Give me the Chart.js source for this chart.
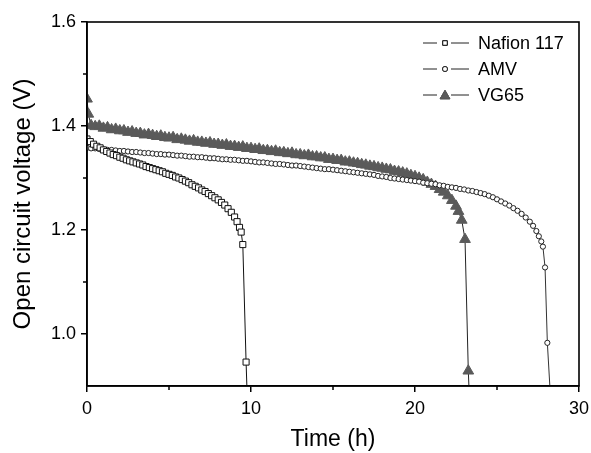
<!DOCTYPE html>
<html>
<head>
<meta charset="utf-8">
<script src="https://cdn.jsdelivr.net/npm/chart.js@4/dist/chart.umd.min.js"></script>
<style>
  html, body { margin: 0; padding: 0; background: #fff; }
  #ocv { display: block; }
</style>
</head>
<body>
<canvas id="ocv" width="591" height="453"></canvas>
<script>
// OCV self-discharge curves

const xTicks = [0, 10, 20, 30];
const xMinor = [5, 15, 25];
const yTicks = [1.0, 1.2, 1.4, 1.6];
const yMinor = [1.1, 1.3, 1.5];

const seriesNames = ['Nafion 117', 'AMV', 'VG65'];

const nafionTime = [0, 0.2, 0.4, 0.6, 0.8, 1.0, 1.2, 1.4, 1.6, 1.8, 2.0, 2.2, 2.4, 2.6, 2.8, 3.0,
    3.2, 3.4, 3.6, 3.8, 4.0, 4.2, 4.4, 4.6, 4.8, 5.0, 5.2, 5.4, 5.6, 5.8, 6.0, 6.2, 6.4, 6.6,
    6.8, 7.0, 7.2, 7.4, 7.6, 7.8, 8.0, 8.2, 8.4, 8.6, 8.8, 9.0, 9.15, 9.3, 9.4, 9.5, 9.7, 9.8];
const nafionOCV = [1.375, 1.370, 1.365, 1.361, 1.358, 1.354, 1.351, 1.348, 1.345, 1.343, 1.340,
    1.338, 1.335, 1.333, 1.331, 1.329, 1.327, 1.325, 1.322, 1.320, 1.318, 1.316, 1.314, 1.312,
    1.309, 1.307, 1.305, 1.302, 1.300, 1.297, 1.294, 1.291, 1.287, 1.284, 1.281, 1.277, 1.274,
    1.270, 1.266, 1.262, 1.258, 1.253, 1.248, 1.241, 1.234, 1.225, 1.216, 1.205, 1.196, 1.172,
    0.946, 0.850];

const amvTime = [0, 0.25, 0.5, 0.75, 1, 1.25, 1.5, 1.75, 2, 2.25, 2.5, 2.75, 3, 3.25, 3.5, 3.75,
    4, 4.25, 4.5, 4.75, 5, 5.25, 5.5, 5.75, 6, 6.25, 6.5, 6.75, 7, 7.25, 7.5, 7.75,
    8, 8.25, 8.5, 8.75, 9, 9.25, 9.5, 9.75, 10, 10.25, 10.5, 10.75, 11, 11.25, 11.5, 11.75,
    12, 12.25, 12.5, 12.75, 13, 13.25, 13.5, 13.75, 14, 14.25, 14.5, 14.75, 15, 15.25, 15.5, 15.75,
    16, 16.25, 16.5, 16.75, 17, 17.25, 17.5, 17.75, 18, 18.25, 18.5, 18.75, 19, 19.25, 19.5, 19.75,
    20, 20.25, 20.5, 20.75, 21, 21.25, 21.5, 21.75, 22, 22.25, 22.5, 22.75, 23, 23.25, 23.5, 23.75,
    24, 24.25, 24.5, 24.75, 25, 25.25, 25.5, 25.75, 26, 26.25, 26.5, 26.75, 27,
    27.2, 27.4, 27.55, 27.7, 27.8, 27.93, 28.07, 28.35];
const amvOCV = [1.358, 1.357, 1.357, 1.356, 1.355, 1.354, 1.354, 1.353,
    1.352, 1.352, 1.351, 1.350, 1.350, 1.349, 1.348, 1.348,
    1.347, 1.346, 1.346, 1.345, 1.345, 1.344, 1.343, 1.343,
    1.342, 1.341, 1.341, 1.340, 1.340, 1.339, 1.338, 1.338,
    1.337, 1.336, 1.336, 1.335, 1.335, 1.334, 1.333, 1.333,
    1.332, 1.331, 1.330, 1.330, 1.329, 1.328, 1.327, 1.327,
    1.326, 1.325, 1.324, 1.324, 1.323, 1.322, 1.321, 1.320,
    1.319, 1.318, 1.317, 1.317, 1.316, 1.315, 1.314, 1.313,
    1.312, 1.311, 1.310, 1.309, 1.308, 1.307, 1.306, 1.304,
    1.303, 1.302, 1.300, 1.299, 1.298, 1.297, 1.296, 1.295,
    1.294, 1.293, 1.291, 1.290, 1.289, 1.288, 1.286, 1.285,
    1.283, 1.282, 1.281, 1.279, 1.278, 1.276, 1.275, 1.273,
    1.271, 1.269, 1.266, 1.263, 1.259, 1.255, 1.251, 1.247,
    1.242, 1.237, 1.231, 1.224, 1.216,
    1.208, 1.198, 1.188, 1.178, 1.168, 1.128, 0.983, 0.830];

const vg65Time = [0, 0.08, 0.25, 0.5, 0.75, 1, 1.25, 1.5, 1.75, 2, 2.25, 2.5, 2.75, 3, 3.25, 3.5, 3.75,
    4, 4.25, 4.5, 4.75, 5, 5.25, 5.5, 5.75, 6, 6.25, 6.5, 6.75, 7, 7.25, 7.5, 7.75,
    8, 8.25, 8.5, 8.75, 9, 9.25, 9.5, 9.75, 10, 10.25, 10.5, 10.75, 11, 11.25, 11.5, 11.75,
    12, 12.25, 12.5, 12.75, 13, 13.25, 13.5, 13.75, 14, 14.25, 14.5, 14.75, 15, 15.25, 15.5, 15.75,
    16, 16.25, 16.5, 16.75, 17, 17.25, 17.5, 17.75, 18, 18.25, 18.5, 18.75, 19, 19.25, 19.5, 19.75,
    20, 20.25, 20.5, 20.75, 21, 21.25, 21.5, 21.75, 22, 22.25, 22.5,
    22.65, 22.85, 23.05, 23.25, 23.35];
const vg65OCV = [1.452, 1.423, 1.401, 1.399, 1.400, 1.396, 1.397, 1.393, 1.394,
    1.391, 1.391, 1.388, 1.389, 1.386, 1.386, 1.383, 1.384,
    1.382, 1.380, 1.381, 1.378, 1.377, 1.378, 1.374, 1.375,
    1.373, 1.371, 1.372, 1.369, 1.369, 1.367, 1.368, 1.365,
    1.365, 1.363, 1.364, 1.361, 1.361, 1.359, 1.360, 1.357,
    1.357, 1.355, 1.356, 1.353, 1.353, 1.351, 1.352, 1.349,
    1.349, 1.347, 1.348, 1.345, 1.345, 1.343, 1.344, 1.341,
    1.341, 1.339, 1.339, 1.336, 1.336, 1.334, 1.334, 1.331,
    1.331, 1.329, 1.328, 1.326, 1.325, 1.323, 1.322, 1.320,
    1.319, 1.317, 1.316, 1.313, 1.312, 1.310, 1.308, 1.305,
    1.303, 1.300, 1.297, 1.292, 1.288, 1.284, 1.278, 1.273,
    1.266, 1.257, 1.246,
    1.236, 1.219, 1.182, 0.929, 0.850];

const FONT = 'Arial, "Liberation Sans", sans-serif';

function pairs(ts, vs) {
    return ts.map((t, i) => ({ x: t, y: vs[i] }));
}

// style per series (square / circle / filled triangle)
const looks = [
    { pointStyle: 'rect', radius: 4.3, fill: '#ffffff', stroke: '#111', line: '#111' },
    { pointStyle: 'circle', radius: 2.6, fill: '#ffffff', stroke: '#222', line: '#333' },
    { pointStyle: 'triangle', radius: 6.2, fill: '#5a5a5a', stroke: '#5a5a5a', line: '#222' }
];
const legendRadius = [3.2, 2.5, 5.6];

const allData = [pairs(nafionTime, nafionOCV), pairs(amvTime, amvOCV), pairs(vg65Time, vg65OCV)];

const datasets = seriesNames.map((name, i) => ({
    label: name,
    data: allData[i],
    borderColor: looks[i].line,
    borderWidth: 1,
    pointStyle: looks[i].pointStyle,
    pointRadius: looks[i].radius,
    pointBackgroundColor: looks[i].fill,
    pointBorderColor: looks[i].stroke,
    pointBorderWidth: 1,
    tension: 0,
    fill: false
}));

// frame, minor ticks and the line-marker-line legend
const framePlugin = {
    id: 'frame',
    afterDraw(chart) {
        const { ctx, chartArea: a, scales } = chart;
        ctx.save();
        ctx.strokeStyle = '#000';
        ctx.lineWidth = 1.6;
        ctx.strokeRect(a.left, a.top, a.right - a.left, a.bottom - a.top);

        ctx.lineWidth = 1.5;
        ctx.beginPath();
        xMinor.forEach(v => {
            const px = scales.x.getPixelForValue(v);
            ctx.moveTo(px, a.bottom);
            ctx.lineTo(px, a.bottom + 4);
        });
        yMinor.forEach(v => {
            const py = scales.y.getPixelForValue(v);
            ctx.moveTo(a.left, py);
            ctx.lineTo(a.left - 4, py);
        });
        ctx.stroke();

        // legend
        ctx.font = '18px ' + FONT;
        ctx.textBaseline = 'middle';
        ctx.textAlign = 'left';
        chart.data.datasets.forEach((ds, i) => {
            const y = a.top + 21 + i * 26;
            const mx = a.right - 134;
            ctx.strokeStyle = '#222';
            ctx.lineWidth = 1;
            ctx.beginPath();
            ctx.moveTo(mx - 22, y); ctx.lineTo(mx - 8, y);
            ctx.moveTo(mx + 6, y); ctx.lineTo(mx + 24, y);
            ctx.stroke();
            Chart.helpers.drawPoint(ctx, {
                pointStyle: ds.pointStyle,
                radius: legendRadius[i],
                borderWidth: 1,
                rotation: 0
            }, mx, y + (i === 2 ? 1 : 0));
            ctx.fillStyle = ds.pointBackgroundColor;
            ctx.strokeStyle = ds.pointBorderColor;
            ctx.fill();
            ctx.stroke();
            ctx.fillStyle = '#000';
            ctx.fillText(ds.label, mx + 33, y + 1);
        });
        ctx.restore();
    }
};

new Chart(document.getElementById('ocv'), {
    type: 'line',
    data: { datasets },
    plugins: [framePlugin],
    options: {
        responsive: false,
        animation: false,
        devicePixelRatio: 1,
        layout: { padding: { top: 22, right: 12, left: 0, bottom: 0 } },
        plugins: {
            legend: { display: false },
            tooltip: { enabled: false }
        },
        scales: {
            x: {
                type: 'linear',
                min: 0,
                max: 30,
                afterBuildTicks: s => { s.ticks = xTicks.map(v => ({ value: v })); },
                afterFit: s => { s.height = 67; s.paddingLeft = 0; s.paddingRight = 0; },
                grid: { drawOnChartArea: false, tickLength: 6, color: '#000', lineWidth: 1.5 },
                border: { display: true, color: '#000', width: 1.6 },
                ticks: { color: '#000', padding: 6, font: { family: FONT, size: 18 } },
                title: {
                    display: true,
                    text: 'Time (h)',
                    color: '#000',
                    padding: { top: 0, bottom: 0 },
                    font: { family: FONT, size: 23 }
                }
            },
            y: {
                type: 'linear',
                min: 0.9,
                max: 1.6,
                afterBuildTicks: s => { s.ticks = yTicks.map(v => ({ value: v })); },
                afterFit: s => { s.width = 87; s.paddingTop = 0; s.paddingBottom = 0; },
                grid: { drawOnChartArea: false, tickLength: 6, color: '#000', lineWidth: 1.5 },
                border: { display: true, color: '#000', width: 1.6 },
                ticks: {
                    color: '#000',
                    padding: 5,
                    font: { family: FONT, size: 18 },
                    callback: v => v.toFixed(1)
                },
                title: {
                    display: true,
                    text: 'Open circuit voltage (V)',
                    color: '#000',
                    padding: { top: 9, bottom: 0 },
                    font: { family: FONT, size: 24 }
                }
            }
        }
    }
});
</script>
</body>
</html>
